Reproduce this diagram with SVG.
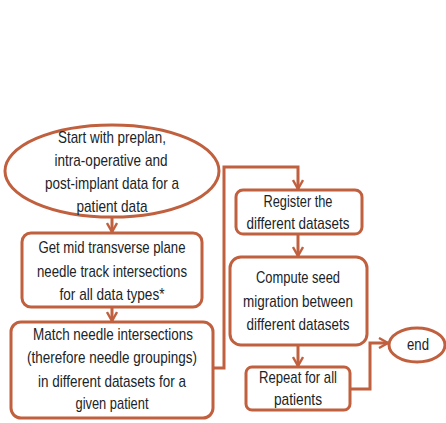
<svg xmlns="http://www.w3.org/2000/svg" width="446" height="423" viewBox="0 0 446 423">
<defs>
<style>
.shape{fill:#fff;stroke:#C0603F;stroke-width:3}
.conn{fill:none;stroke:#C0603F;stroke-width:3}
text{font-family:"Liberation Sans Narrow","Liberation Sans",Arial,sans-serif;font-size:17px;fill:#1A2428;text-anchor:middle}
</style>
<marker id="arr" viewBox="0 0 12 12" refX="10.5" refY="6" markerWidth="12" markerHeight="12" markerUnits="userSpaceOnUse" orient="auto">
<path d="M1.5,1 L10.5,6 L1.5,11" fill="none" stroke="#C0603F" stroke-width="2.4"/>
</marker>
</defs>
<rect width="446" height="423" fill="#fff"/>
<g id="connectors">
<line class="conn" x1="112" y1="217" x2="112" y2="232" marker-end="url(#arr)"/>
<line class="conn" x1="112" y1="307" x2="112" y2="321" marker-end="url(#arr)"/>
<polyline class="conn" points="213,368 224,368 224,167 298,167 298,189" marker-end="url(#arr)"/>
<line class="conn" x1="298" y1="234" x2="298" y2="256" marker-end="url(#arr)"/>
<line class="conn" x1="298" y1="345" x2="298" y2="366" marker-end="url(#arr)"/>
<polyline class="conn" points="351,389 370,389 370,343 388,343" marker-end="url(#arr)"/>
</g>
<g id="start">
<ellipse class="shape" cx="112" cy="171" rx="107" ry="46"/>
<text x="112" y="143" textLength="108" lengthAdjust="spacingAndGlyphs">Start with preplan,</text>
<text x="111" y="166" textLength="113" lengthAdjust="spacingAndGlyphs">intra-operative and</text>
<text x="112" y="189" textLength="134" lengthAdjust="spacingAndGlyphs">post-implant data for a</text>
<text x="112" y="212" textLength="71" lengthAdjust="spacingAndGlyphs">patient data</text>
</g>
<g id="get-intersections">
<rect class="shape" x="22" y="233" width="180" height="74" rx="9"/>
<text x="112" y="253" textLength="147" lengthAdjust="spacingAndGlyphs">Get mid transverse plane</text>
<text x="112" y="277" textLength="150" lengthAdjust="spacingAndGlyphs">needle track intersections</text>
<text x="112" y="300" textLength="105" lengthAdjust="spacingAndGlyphs">for all data types*</text>
</g>
<g id="match">
<rect class="shape" x="11" y="322" width="202" height="96" rx="10"/>
<text x="113" y="340" textLength="160" lengthAdjust="spacingAndGlyphs">Match needle intersections</text>
<text x="112" y="363" textLength="170" lengthAdjust="spacingAndGlyphs">(therefore needle groupings)</text>
<text x="112" y="387" textLength="148" lengthAdjust="spacingAndGlyphs">in different  datasets for a</text>
<text x="112" y="409" textLength="73" lengthAdjust="spacingAndGlyphs">given patient</text>
</g>
<g id="register">
<rect class="shape" x="236" y="190" width="126" height="44" rx="7"/>
<text x="298" y="207" textLength="69" lengthAdjust="spacingAndGlyphs">Register the</text>
<text x="298" y="229" textLength="103" lengthAdjust="spacingAndGlyphs">different  datasets</text>
</g>
<g id="compute">
<rect class="shape" x="230" y="257" width="137" height="88" rx="11"/>
<text x="298" y="283" textLength="84" lengthAdjust="spacingAndGlyphs">Compute seed</text>
<text x="298" y="307" textLength="110" lengthAdjust="spacingAndGlyphs">migration between</text>
<text x="298" y="330" textLength="103" lengthAdjust="spacingAndGlyphs">different  datasets</text>
</g>
<g id="repeat">
<rect class="shape" x="246" y="367" width="104" height="43" rx="6"/>
<text x="298" y="383" textLength="78" lengthAdjust="spacingAndGlyphs">Repeat for all</text>
<text x="298" y="405" textLength="48" lengthAdjust="spacingAndGlyphs">patients</text>
</g>
<g id="end">
<ellipse class="shape" cx="417" cy="345" rx="28" ry="17"/>
<text x="418" y="350" textLength="22" lengthAdjust="spacingAndGlyphs">end</text>
</g>
</svg>
